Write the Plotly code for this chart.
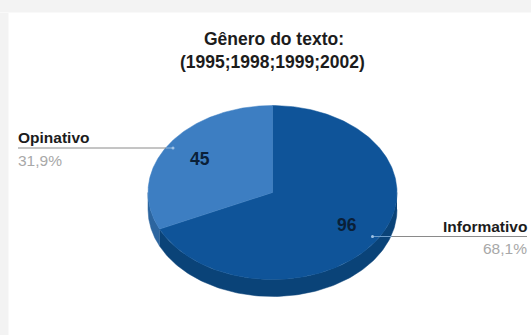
import numpy as np
import plotly.graph_objects as go

# Chart data
categories = ["Informativo", "Opinativo"]
counts = [96, 45]
percent_labels = ["68,1%", "31,9%"]
title_lines = ["Gênero do texto:", "(1995;1998;1999;2002)"]

# Colours per slice: top face and side wall
top_colors = ["#0f5499", "#3d7ec2"]
side_colors = ["#0a4378", "#2c659f"]

W, H = 531, 335
CX, CY = 272.5, 192.5      # pie centre in page pixels
RX, RY = 124.5, 87.0       # ellipse radii in page pixels
DEPTH = 17.0 / RY          # wall height in y axis units


def px(x):
    return x / W


def py(y):
    return 1 - y / H


def rim(theta):
    """Unit-ellipse point for a clockwise angle measured from twelve o'clock."""
    return np.sin(theta), np.cos(theta)


fig = go.Figure()

shares = np.array(counts) / sum(counts)
edges = np.concatenate([[0], np.cumsum(shares)]) * 2 * np.pi

# Side walls are only visible along the front half of the rim
for i in range(len(counts)):
    lo = max(edges[i], np.pi / 2)
    hi = min(edges[i + 1], 3 * np.pi / 2)
    if hi <= lo:
        continue
    t = np.linspace(lo, hi, 120)
    x, y = rim(t)
    fig.add_trace(go.Scatter(
        x=np.concatenate([x, x[::-1]]),
        y=np.concatenate([y, y[::-1] - DEPTH]),
        mode="lines", fill="toself", fillcolor=side_colors[i],
        line=dict(width=0.5, color=side_colors[i]), hoverinfo="skip",
    ))

# Top face of each slice
for i in range(len(counts)):
    t = np.linspace(edges[i], edges[i + 1], 240)
    x, y = rim(t)
    fig.add_trace(go.Scatter(
        x=np.concatenate([[0], x, [0]]),
        y=np.concatenate([[0], y, [0]]),
        mode="lines", fill="toself", fillcolor=top_colors[i],
        line=dict(width=0.5, color=top_colors[i]), hoverinfo="skip",
    ))

annotations = []


def label(text, x, y, size, color, anchor="center", bold=True):
    annotations.append(dict(
        text=f"<b>{text}</b>" if bold else text,
        x=px(x), y=py(y), xref="paper", yref="paper",
        xanchor=anchor, yanchor="middle", showarrow=False,
        borderpad=0, borderwidth=0,
        font=dict(family="Liberation Sans", size=size, color=color),
    ))


label(title_lines[0], 273.5, 39, 17.5, "#1c1c1c")
label(title_lines[1], 272.5, 61.5, 17.5, "#1c1c1c")
label(categories[1], 18, 137, 15.5, "#1c1c1c", "left")
label(percent_labels[1], 18, 160, 15.5, "#a8a8a8", "left", bold=False)
label(categories[0], 527, 226, 15.5, "#1c1c1c", "right")
label(percent_labels[0], 527, 248, 15.5, "#a8a8a8", "right", bold=False)
label(str(counts[1]), 200, 159, 17.5, "#0a2038")
label(str(counts[0]), 346.5, 225, 17.5, "#0a2038")


def band(x0, x1, y0, y1, color):
    return dict(type="rect", xref="paper", yref="paper",
                x0=px(x0), x1=px(x1), y0=py(y1), y1=py(y0),
                fillcolor=color, line_width=0, layer="below")


shapes = [
    # Page backdrop bands along the top and left edges
    band(0, W, 0, 13, "#f9f9f9"),
    band(0, W, 0, 12, "#f3f3f3"),
    band(0, 9, 13, H, "#f9f9f9"),
    band(0, 8, 13, H, "#f3f3f3"),
    # Leader lines
    dict(type="line", xref="paper", yref="paper", x0=px(18), x1=px(166),
         y0=py(148), y1=py(148), line=dict(color="#8a8a8a", width=1), layer="above"),
    dict(type="line", xref="paper", yref="paper", x0=px(166), x1=px(173),
         y0=py(148), y1=py(148), line=dict(color="#8fb4da", width=1), layer="above"),
    dict(type="line", xref="paper", yref="paper", x0=px(373), x1=px(392),
         y0=py(236.5), y1=py(236.5), line=dict(color="#6d9cc9", width=1), layer="above"),
    dict(type="line", xref="paper", yref="paper", x0=px(392), x1=px(527),
         y0=py(236.5), y1=py(236.5), line=dict(color="#8a8a8a", width=1), layer="above"),
    # Leader end dots
    dict(type="circle", xref="paper", yref="paper", x0=px(171.5), x1=px(174.5),
         y0=py(149.5), y1=py(146.5), fillcolor="#9fc2e4", line_width=0, layer="above"),
    dict(type="circle", xref="paper", yref="paper", x0=px(371), x1=px(374),
         y0=py(238), y1=py(235), fillcolor="#9fc2e4", line_width=0, layer="above"),
]

fig.update_layout(
    width=W, height=H, margin=dict(l=0, r=0, t=0, b=0),
    paper_bgcolor="#ffffff", plot_bgcolor="rgba(0,0,0,0)",
    showlegend=False, annotations=annotations, shapes=shapes,
    xaxis=dict(visible=False, range=[-CX / RX, (W - CX) / RX], fixedrange=True),
    yaxis=dict(visible=False, range=[-(H - CY) / RY, CY / RY], fixedrange=True),
)

fig.write_html("out.html", config=dict(displayModeBar=False))
